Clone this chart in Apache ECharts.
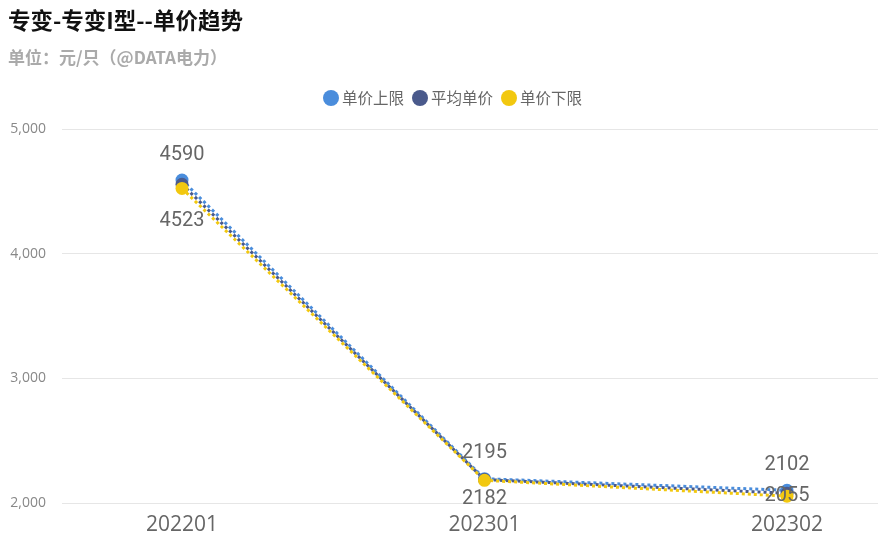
<!DOCTYPE html>
<html><head><meta charset="utf-8">
<script src="https://cdn.jsdelivr.net/npm/echarts@6/dist/echarts.min.js"></script>
<style>html,body{margin:0;padding:0;background:#fff}#c{width:878px;height:555px}</style>
</head><body><div id="c"></div>
<script>
const categories = ['202201', '202301', '202302'];
const upper = [4590, 2195, 2102];
const avg = [4556, 2188, 2078];
const lower = [4523, 2182, 2055];
const yTicks = [2000, 3000, 4000, 5000];

const chart = echarts.init(document.getElementById('c'));
const labelBase = { show: true, color: '#666', fontSize: 20, fontFamily: 'Roboto' };
const lineCommon = (name, data, color, label) => ({
  name, type: 'line', data, xAxisIndex: 1, yAxisIndex: 1,
  symbol: 'circle', symbolSize: 13,
  itemStyle: { color },
  lineStyle: { color, width: 3, type: [3, 3] },
  label: label ? Object.assign({}, labelBase, label) : { show: false }
});
// lower-limit labels are pushed inside the plot when they would hit the axis
const lowerLabelPlacement = [
  { position: 'bottom', distance: 16 },
  { position: 'bottom', distance: 2 },
  { position: 'inside' }
];
const lowerData = lower.map((v, i) => ({ value: v, label: lowerLabelPlacement[i] }));

chart.setOption({
  animation: false,
  title: [
    { text: '专变-专变I型--单价趋势', left: 3, top: 4, textStyle: { fontSize: 22.5, fontWeight: 'bold', color: '#111', fontFamily: 'Noto Sans CJK SC' } },
    { text: '单位：元/只（@DATA电力）', left: 3, top: 44, textStyle: { fontSize: 17, fontWeight: 'bold', color: '#aaa', fontFamily: 'Noto Sans CJK SC' } }
  ],
  legend: {
    top: 85, left: 318, icon: 'circle', itemWidth: 16, itemHeight: 16, itemGap: 8,
    textStyle: { fontSize: 15.5, color: '#666', fontFamily: 'Noto Sans CJK SC', padding: [0, 0, 0, -2] },
    data: ['单价上限', '平均单价', '单价下限']
  },
  grid: [
    { left: 62, right: 0, top: 129, bottom: 52 },
    { left: 182, right: 91, top: 129, bottom: 52 }
  ],
  xAxis: [
    { type: 'category', gridIndex: 0, data: categories, show: false },
    { type: 'category', gridIndex: 1, data: categories, boundaryGap: false,
      axisLine: { show: false }, axisTick: { show: false },
      axisLabel: { color: '#666', fontSize: 21, margin: 12, fontFamily: 'Open Sans' } }
  ],
  yAxis: [
    { type: 'value', gridIndex: 0, min: yTicks[0], max: yTicks[yTicks.length - 1], interval: 1000,
      axisLabel: { color: '#888', fontSize: 14, fontFamily: 'Open Sans', margin: 16, formatter: v => v.toLocaleString('en-US') },
      splitLine: { lineStyle: { color: '#e6e6e6' } }, axisLine: { show: false }, axisTick: { show: false } },
    { type: 'value', gridIndex: 1, min: yTicks[0], max: yTicks[yTicks.length - 1], interval: 1000, show: false }
  ],
  series: [
    lineCommon('单价上限', upper, '#4a8ddc', { position: 'top', distance: 9 }),
    lineCommon('平均单价', avg, '#4a5a8c', null),
    lineCommon('单价下限', lowerData, '#f2c80f', {})
  ]
});
</script></body></html>
